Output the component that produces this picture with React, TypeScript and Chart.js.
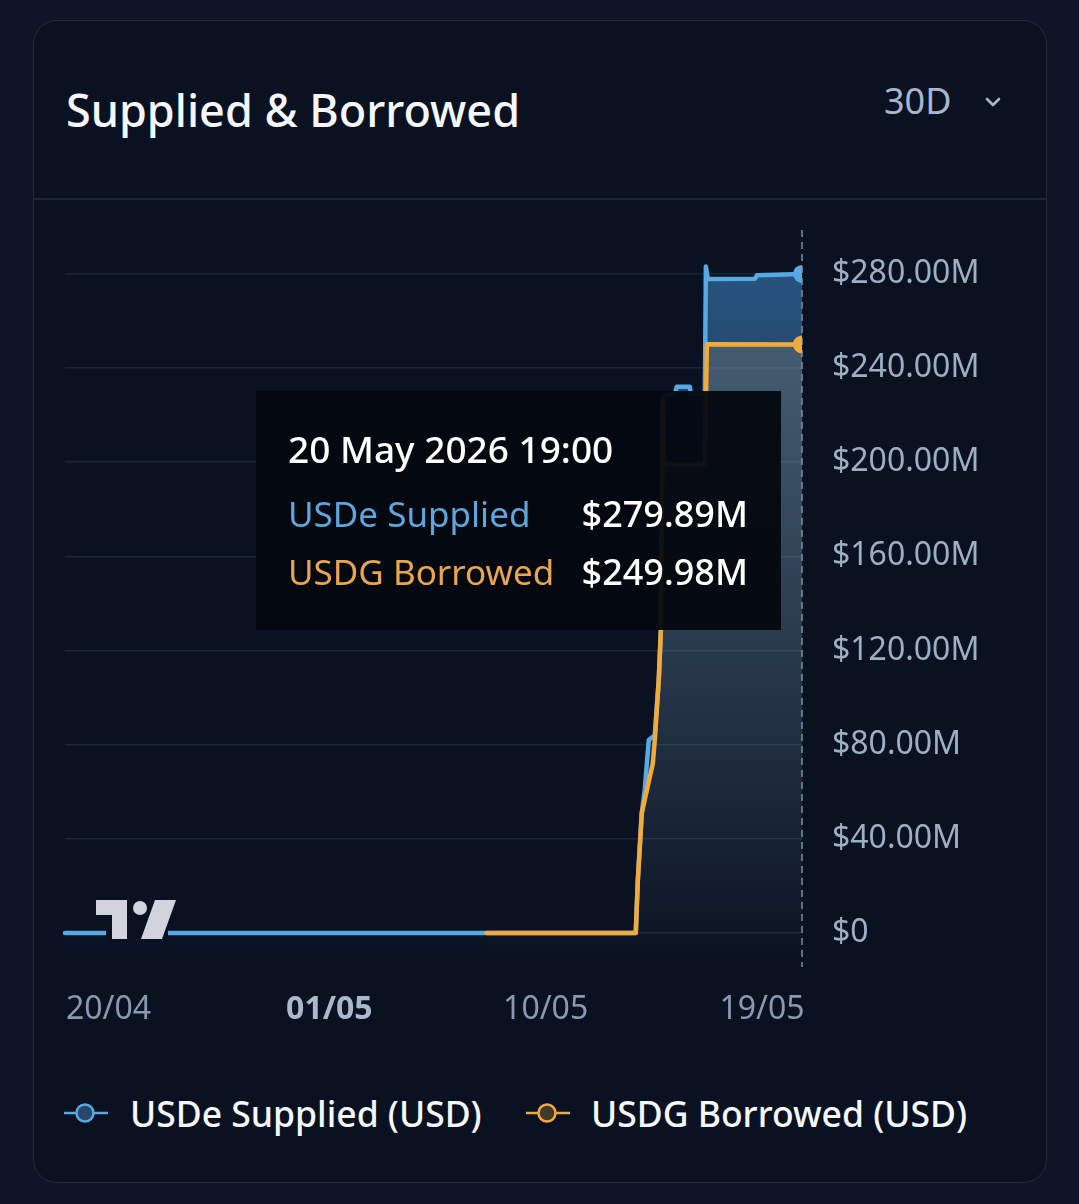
import React, { useEffect, useRef } from 'react';
import { Chart, registerables } from 'chart.js';

Chart.register(...registerables);

// x values: hours since 20 Apr 2026 00:00 ; y values: millions of USD
const suppliedHours = [0, 570, 572, 576, 579, 583, 589, 593, 595, 597, 609, 611, 624, 625, 639, 640, 642, 689, 691, 736];
const suppliedValues = [0, 0, 22, 51, 61, 82, 84, 108, 128, 228, 229, 232, 232, 229, 229, 283, 277.7, 277.8, 279.3, 279.89];
const borrowedHours = [421, 570, 572, 576, 587, 589, 593, 595, 597, 598, 639, 641, 736];
const borrowedValues = [0, 0, 22, 51, 72, 82, 108, 128, 226, 199, 199, 250, 249.98];

const xTickHours = [0, 264, 480, 696];
const xTickLabels = ['20/04', '01/05', '10/05', '19/05'];
const boldTickLabel = '01/05';
const yTickValues = [0, 40, 80, 120, 160, 200, 240, 280];
const yMin = -14.4;
const yMax = 297.7;
const xMin = 0;
const xMax = 736;

const seriesNames = ['USDe Supplied', 'USDG Borrowed'];
const legendLabels = ['USDe Supplied (USD)', 'USDG Borrowed (USD)'];
const tooltipTitle = '20 May 2026 19:00';
const titleText = 'Supplied & Borrowed';
const rangeText = '30D';

const BLUE = '#56a9e2';
const ORANGE = '#f2aa3c';
const BLUE_TEXT = '#5ea6dc';
const ORANGE_TEXT = '#eaa64c';
const FONT = '"Noto Sans", "Open Sans", sans-serif';

function fmtM(v: number): string {
  if (v === 0) return '$0';
  return '$' + v.toFixed(2) + 'M';
}

export default function App() {
  const canvasRef = useRef<HTMLCanvasElement>(null);
  const tipRef = useRef<HTMLDivElement>(null);

  useEffect(() => {
    const canvas = canvasRef.current!;
    const supplied = suppliedHours.map((h, i) => ({ x: h, y: suppliedValues[i] }));
    const borrowed = borrowedHours.map((h, i) => ({ x: h, y: borrowedValues[i] }));

    const overlay = {
      id: 'overlay',
      beforeDatasetsDraw(chart: any) {
        const { ctx, chartArea } = chart;
        const x = chart.scales.x.getPixelForValue(xMax);
        ctx.save();
        ctx.strokeStyle = '#7f8ea3';
        ctx.lineWidth = 1.5;
        ctx.setLineDash([7, 5]);
        ctx.beginPath();
        ctx.moveTo(x, chartArea.top - 2);
        ctx.lineTo(x, chartArea.bottom);
        ctx.stroke();
        ctx.restore();
      },
      afterDatasetsDraw(chart: any) {
        const { ctx, chartArea } = chart;
        const L = chartArea.left - 65;
        const B = chartArea.bottom - 967;
        const X = (v: number) => v + L;
        const Y = (v: number) => v + B;
        ctx.save();
        ctx.fillStyle = '#0a1221';
        ctx.fillRect(X(106), Y(922), 62, 20);
        ctx.fillStyle = '#d1d4dc';
        ctx.fillRect(X(96), Y(900), 31, 15);
        ctx.fillRect(X(112), Y(915), 15, 24);
        ctx.beginPath();
        ctx.arc(X(140), Y(908), 7, 0, Math.PI * 2);
        ctx.fill();
        ctx.beginPath();
        ctx.moveTo(X(155), Y(900));
        ctx.lineTo(X(176), Y(900));
        ctx.lineTo(X(162), Y(939));
        ctx.lineTo(X(141), Y(939));
        ctx.closePath();
        ctx.fill();
        ctx.restore();
      },
      afterDraw(chart: any) {
        const { ctx, chartArea } = chart;
        const xs = chart.scales.x;
        ctx.save();
        ctx.textBaseline = 'middle';
        ctx.textAlign = 'center';
        xTickHours.forEach((h, i) => {
          const label = xTickLabels[i];
          const bold = label === boldTickLabel;
          ctx.font = `${bold ? 700 : 400} 32px ${FONT}`;
          ctx.fillStyle = bold ? '#a9b8cb' : '#8999af';
          const w = ctx.measureText(label).width;
          let cx = xs.getPixelForValue(h);
          cx = Math.max(chartArea.left + w / 2 + 1, cx);
          ctx.fillText(label, cx, chartArea.bottom + 43);
        });
        ctx.restore();
      },
    };

    const grad = (r: number, g: number, b: number, a0: number, a1: number) => (c: any) => {
      const { chart } = c;
      const area = chart.chartArea;
      if (!area) return `rgba(${r},${g},${b},${a0})`;
      const gr = chart.ctx.createLinearGradient(0, area.top, 0, area.bottom);
      gr.addColorStop(0, `rgba(${r},${g},${b},${a0})`);
      gr.addColorStop(1, `rgba(${r},${g},${b},${a1})`);
      return gr;
    };

    const lastS = supplied.length - 1;
    const lastB = borrowed.length - 1;

    const chart = new Chart(canvas, {
      type: 'line',
      data: {
        datasets: [
          {
            label: seriesNames[0],
            data: supplied,
            borderColor: BLUE,
            borderWidth: 4.5,
            backgroundColor: grad(74, 155, 228, 0.5, 0.0),
            fill: 'start',
            tension: 0,
            borderJoinStyle: 'round',
            borderCapStyle: 'round',
            pointRadius: (c: any) => (c.dataIndex === lastS ? 9 : 0),
            pointHoverRadius: (c: any) => (c.dataIndex === lastS ? 9 : 0),
            pointBackgroundColor: BLUE,
            pointBorderWidth: 0,
            clip: { left: 8, top: 8, right: 0, bottom: 8 },
            order: 2,
          },
          {
            label: seriesNames[1],
            data: borrowed,
            borderColor: ORANGE,
            borderWidth: 4.5,
            backgroundColor: grad(225, 170, 90, 0.2, 0.0),
            fill: 'start',
            tension: 0,
            borderJoinStyle: 'round',
            borderCapStyle: 'round',
            pointRadius: (c: any) => (c.dataIndex === lastB ? 9 : 0),
            pointHoverRadius: (c: any) => (c.dataIndex === lastB ? 9 : 0),
            pointBackgroundColor: ORANGE,
            pointBorderWidth: 0,
            clip: { left: 8, top: 8, right: 0, bottom: 8 },
            order: 1,
          },
        ],
      } as any,
      options: {
        animation: false,
        responsive: false,
        devicePixelRatio: 1,
        events: [],
        layout: { padding: { left: 31, right: 0, top: 32, bottom: 83 } },
        scales: {
          x: {
            type: 'linear',
            display: false,
            min: xMin,
            max: xMax,
          },
          y: {
            type: 'linear',
            position: 'right',
            min: yMin,
            max: yMax,
            afterBuildTicks: (scale: any) => {
              scale.ticks = yTickValues.map((v) => ({ value: v }));
            },
            afterFit: (scale: any) => {
              scale.width = 244;
              scale.paddingTop = 0;
              scale.paddingBottom = 0;
            },
            grid: { color: '#1b2536', lineWidth: 1.5, drawTicks: false },
            border: { display: false },
            ticks: {
              padding: 30,
              color: '#9eafc4',
              font: { family: FONT, size: 32 },
              callback: (v: any) => fmtM(Number(v)),
            },
          },
        },
        plugins: {
          legend: { display: false },
          tooltip: {
            enabled: false,
            external: ({ chart, tooltip }: any) => {
              const el = tipRef.current;
              if (!el) return;
              if (!tooltip || tooltip.opacity === 0 || !tooltip.dataPoints) {
                el.style.display = 'none';
                return;
              }
              const byDs: any[] = [];
              tooltip.dataPoints.forEach((p: any) => (byDs[p.datasetIndex] = p));
              const colors = [BLUE_TEXT, ORANGE_TEXT];
              const rows = byDs
                .map((p, i) =>
                  p
                    ? `<div style="position:absolute;left:32px;right:33px;top:${101 + i * 58}px;height:44px;line-height:44px;display:flex;justify-content:space-between;font-size:35px;white-space:nowrap;">
                        <span style="color:${colors[i]};font-weight:400">${p.dataset.label}</span>
                        <span style="color:#ffffff;font-weight:500;font-size:36px">${fmtM(p.raw.y)}</span>
                      </div>`
                    : ''
                )
                .join('');
              el.innerHTML = `<div style="position:absolute;left:32px;top:36px;height:44px;line-height:44px;font-size:37px;font-weight:500;color:#ffffff;white-space:nowrap">${tooltipTitle}</div>${rows}`;
              el.style.display = 'block';
              el.style.left = tooltip.caretX - 21 - 525 + 'px';
              el.style.top = chart.chartArea.top + 159 + 'px';
            },
          },
        },
      } as any,
      plugins: [overlay],
    });

    chart.tooltip!.setActiveElements(
      [
        { datasetIndex: 0, index: lastS },
        { datasetIndex: 1, index: lastB },
      ],
      { x: chart.scales.x.getPixelForValue(xMax), y: chart.scales.y.getPixelForValue(suppliedValues[lastS]) }
    );
    chart.draw();

    return () => chart.destroy();
  }, []);

  const legendIcon = (color: string, fill: string) => (
    <svg width="44" height="24" style={{ display: 'block' }}>
      <line x1="0" y1="12" x2="44" y2="12" stroke={color} strokeWidth="2.5" />
      <circle cx="21" cy="12" r="8.5" fill={fill} stroke={color} strokeWidth="2.5" />
    </svg>
  );

  const textStyle = (left: number, top: number, size: number, weight: number, color: string, lh: number): React.CSSProperties => ({
    position: 'absolute',
    left,
    top,
    height: lh,
    lineHeight: lh + 'px',
    fontSize: size,
    fontWeight: weight,
    color,
    whiteSpace: 'nowrap',
  });

  return (
    <div
      style={{
        position: 'fixed',
        left: 0,
        top: 0,
        width: 1079,
        height: 1204,
        background: '#0d1526',
        overflow: 'hidden',
        fontFamily: FONT,
      }}
    >
      <div
        style={{
          position: 'absolute',
          left: 33,
          top: 20,
          width: 1014,
          height: 1163,
          boxSizing: 'border-box',
          border: '1.5px solid #222c3d',
          borderRadius: 24,
          background: '#0a1221',
        }}
      />
      <div style={{ position: 'absolute', left: 34, top: 198, width: 1012, height: 1.5, background: '#1c2637' }} />
      <div style={textStyle(66, 83, 45, 500, '#f5f7fa', 54)}>{titleText}</div>
      <div style={textStyle(884, 78, 36, 400, '#a7b7cb', 46)}>{rangeText}</div>
      <svg style={{ position: 'absolute', left: 984, top: 95, width: 18, height: 14 }}>
        <polyline points="3,4 9,10 15,4" fill="none" stroke="#a7b7cb" strokeWidth="2.6" strokeLinecap="round" strokeLinejoin="round" />
      </svg>

      <div style={{ position: 'absolute', left: 34, top: 200, width: 1012, height: 850 }}>
        <canvas ref={canvasRef} width={1012} height={850} style={{ width: 1012, height: 850, display: 'block' }} />
        <div
          ref={tipRef}
          style={{
            position: 'absolute',
            display: 'none',
            width: 525,
            height: 239,
            background: 'rgba(4,8,16,0.95)',
            fontFamily: FONT,
            pointerEvents: 'none',
          }}
        />
      </div>

      <div style={{ position: 'absolute', left: 64, top: 1101 }}>{legendIcon(BLUE, '#27466a')}</div>
      <div style={textStyle(130, 1090, 35.5, 500, '#f5f7fa', 46)}>{legendLabels[0]}</div>
      <div style={{ position: 'absolute', left: 526, top: 1101 }}>{legendIcon(ORANGE, '#3f3a2c')}</div>
      <div style={textStyle(591, 1090, 35.5, 500, '#f5f7fa', 46)}>{legendLabels[1]}</div>
    </div>
  );
}
